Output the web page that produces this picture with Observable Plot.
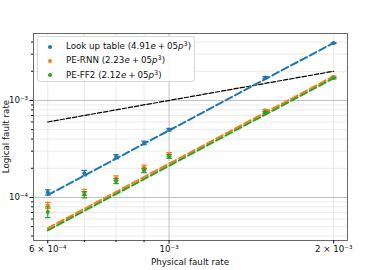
<!DOCTYPE html>
<html><head><meta charset="utf-8">
<script src="https://cdn.jsdelivr.net/npm/d3@7"></script>
<script src="https://cdn.jsdelivr.net/npm/@observablehq/plot@0.6"></script>
<style>
body{margin:0;background:#fff;}
#wrap{position:relative;width:388px;height:270px;font-family:"DejaVu Sans",sans-serif;}
#wrap svg{position:absolute;left:0;top:0;}
.legend{position:absolute;left:37px;top:36px;width:158px;height:46px;border:1px solid #d8d8d8;border-radius:3px;background:rgba(255,255,255,0.85);box-sizing:border-box;font-size:8.7px;color:#111;}
.row{position:absolute;left:28px;white-space:nowrap;line-height:10px;}
.mk{position:absolute;left:10px;width:4px;height:4px;border-radius:50%;}
.row i{font-style:italic;}
.row .op{padding:0 2px;}
.row sup{font-size:6.5px;vertical-align:3px;line-height:0;}
</style></head>
<body><div id="wrap"></div>
<script>
const physical = [6e-4, 7e-4, 8e-4, 9e-4, 1e-3, 1.5e-3, 2e-3];
const seriesNames = ["Look up table", "PE-RNN", "PE-FF2"];
const coefLabels = ["4.91", "2.23", "2.12"];
const colors = ["#1f77b4", "#ff7f0e", "#2ca02c"];
const lutRate = [1.13e-4, 1.78e-4, 2.63e-4, 3.65e-4, 5.0e-4, 1.72e-3, 3.9e-3];
const lutLo   = [1.06e-4, 1.67e-4, 2.50e-4, 3.50e-4, 4.85e-4, 1.68e-3, 3.85e-3];
const lutHi   = [1.20e-4, 1.90e-4, 2.76e-4, 3.80e-4, 5.15e-4, 1.76e-3, 3.95e-3];
const rnnRate = [8.3e-5, 1.13e-4, 1.58e-4, 2.05e-4, 2.78e-4, 7.9e-4, 1.75e-3];
const rnnLo   = [7.7e-5, 1.05e-4, 1.49e-4, 1.95e-4, 2.66e-4, 7.7e-4, 1.72e-3];
const rnnHi   = [8.9e-5, 1.21e-4, 1.67e-4, 2.15e-4, 2.90e-4, 8.1e-4, 1.78e-3];
const ff2Rate = [7.1e-5, 1.07e-4, 1.48e-4, 1.90e-4, 2.65e-4, 7.55e-4, 1.70e-3];
const ff2Lo   = [6.2e-5, 0.99e-4, 1.39e-4, 1.80e-4, 2.53e-4, 7.35e-4, 1.67e-3];
const ff2Hi   = [8.0e-5, 1.15e-4, 1.57e-4, 2.00e-4, 2.77e-4, 7.75e-4, 1.73e-3];
// fit lines (endpoints at 6e-4 and 2e-3)
const fitX = [6e-4, 2e-3];
const lutFit = [1.06e-4, 3.93e-3];
const rnnFit = [4.82e-5, 1.78e-3];
const ff2Fit = [4.58e-5, 1.70e-3];
const refLine = [6e-4, 2e-3];
// ticks
const xMajor = [1e-3];
const xMinor = [6e-4, 7e-4, 8e-4, 9e-4, 2e-3];
const xTickVals = [6e-4, 1e-3, 2e-3];
const xTickLabels = ["6 × 10⁻⁴", "10⁻³", "2 × 10⁻³"];
const yMajor = [1e-4, 1e-3];
const yTickLabels = ["10⁻⁴", "10⁻³"];
const yMinor = [4e-5,5e-5,6e-5,7e-5,8e-5,9e-5,2e-4,3e-4,4e-4,5e-4,6e-4,7e-4,8e-4,9e-4,2e-3,3e-3,4e-3];

const rates = [lutRate, rnnRate, ff2Rate], los = [lutLo, rnnLo, ff2Lo], his = [lutHi, rnnHi, ff2Hi];
const fits = [lutFit, rnnFit, ff2Fit];
const pts = [];
seriesNames.forEach((s, i) => physical.forEach((x, j) => pts.push({s, x, y: rates[i][j], lo: los[i][j], hi: his[i][j]})));
const fitRows = [];
seriesNames.forEach((s, i) => fitX.forEach((x, j) => fitRows.push({s, x, y: fits[i][j]})));
const refRows = fitX.map((x, j) => ({x, y: refLine[j]}));
const xLab = new Map(xTickVals.map((v, k) => [v, xTickLabels[k]]));
const yLab = new Map(yMajor.map((v, k) => [v, yTickLabels[k]]));

const cap = {draw(ctx, size){ ctx.moveTo(-2.8, 0); ctx.lineTo(2.8, 0); }};

const marks = [
  Plot.ruleX(xMinor, {stroke: "#e6e6e6", strokeWidth: 0.8}),
  Plot.ruleY(yMinor, {stroke: "#e6e6e6", strokeWidth: 0.8}),
  Plot.ruleX(xMajor, {stroke: "#b0b0b0", strokeWidth: 0.8}),
  Plot.ruleY(yMajor, {stroke: "#b0b0b0", strokeWidth: 0.8}),
  Plot.line(refRows, {x: "x", y: "y", stroke: "black", strokeWidth: 1.2, strokeDasharray: "4.4,1.9"})
];
seriesNames.forEach((s, i) => {
  const d = pts.filter(p => p.s === s);
  const f = fitRows.filter(p => p.s === s);
  marks.push(
    Plot.line(f, {x: "x", y: "y", stroke: colors[i], strokeWidth: 2, strokeDasharray: "7.4,3.2"}),
    Plot.ruleX(d, {x: "x", y1: "lo", y2: "hi", stroke: colors[i], strokeWidth: 1.2}),
    Plot.dot(d, {x: "x", y: "lo", symbol: cap, stroke: colors[i], strokeWidth: 1.2}),
    Plot.dot(d, {x: "x", y: "hi", symbol: cap, stroke: colors[i], strokeWidth: 1.2}),
    Plot.dot(d, {x: "x", y: "y", r: 2, fill: colors[i]})
  );
});
marks.push(
  Plot.frame({stroke: "#444", strokeWidth: 0.8}),
  Plot.axisX(xTickVals, {tickFormat: d => xLab.get(d) ?? "", tickSize: 3.5, tickPadding: 2, label: null}),
  Plot.axisX([7e-4, 8e-4, 9e-4], {tickFormat: () => "", tickSize: 2, label: null}),
  Plot.axisY(yMajor, {tickFormat: d => yLab.get(d) ?? "", tickSize: 3.5, tickPadding: 2, label: null}),
  Plot.axisY(yMinor, {tickFormat: () => "", tickSize: 2, label: null})
);

const chart = Plot.plot({
  width: 388, height: 270,
  marginLeft: 33, marginRight: 41, marginTop: 33, marginBottom: 30,
  style: {fontFamily: "DejaVu Sans", fontSize: "8.7px", color: "#111", background: "white"},
  x: {type: "log", domain: [5.65e-4, 2.12e-3]},
  y: {type: "log", domain: [3.6e-5, 4.9e-3]},
  marks
});
const wrap = document.getElementById("wrap");
wrap.appendChild(chart);

// axis titles
const svg = d3.select(chart);
svg.append("text").attr("x", 190).attr("y", 265).attr("text-anchor", "middle")
  .attr("font-size", 8.7).attr("fill", "#111").text("Physical fault rate");
svg.append("text").attr("transform", "translate(9,136.5) rotate(-90)").attr("text-anchor", "middle")
  .attr("font-size", 8.7).attr("fill", "#111").text("Logical fault rate");

// legend
const lg = document.createElement("div");
lg.className = "legend";
seriesNames.forEach((s, i) => {
  const top = 4 + i * 14.3;
  const mk = document.createElement("div");
  mk.className = "mk"; mk.style.background = colors[i]; mk.style.top = (top + 3.5) + "px";
  lg.appendChild(mk);
  const r = document.createElement("div");
  r.className = "row"; r.style.top = top + "px";
  r.innerHTML = `${s} (${coefLabels[i]}<i>e</i><span class="op">+</span>05<i>p</i><sup>3</sup>)`;
  lg.appendChild(r);
});
wrap.appendChild(lg);
</script></body></html>
